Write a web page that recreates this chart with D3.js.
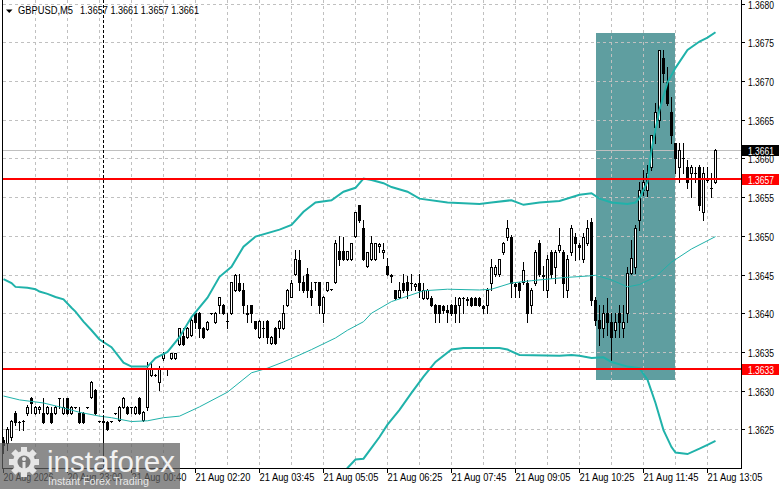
<!DOCTYPE html>
<html><head><meta charset="utf-8">
<script src="https://cdn.jsdelivr.net/npm/d3@7/dist/d3.min.js"></script>
<style>
html,body{margin:0;padding:0;background:#fff;overflow:hidden;}
svg{display:block;}
text{font-family:"Liberation Sans",Arial,sans-serif;}
</style></head><body>
<svg id="c" width="781" height="489"></svg>
<script>
// ---------------- data ----------------
const symbolName = "GBPUSD,M5";
const headerValues = "1.3657 1.3661 1.3657 1.3661";

const opens = [
1.36236,1.36232,1.36240,1.36271,1.36260,1.36261,1.36271,1.36291,1.36271,1.36276,
1.36271,1.36271,1.36271,1.36271,1.36291,1.36271,1.36291,1.36271,1.36279,1.36271,
1.36271,1.36279,1.36292,1.36301,1.36261,1.36261,1.36260,1.36261,1.36271,1.36262,
1.36279,1.36279,1.36279,1.36271,1.36291,1.36262,1.36279,1.36320,1.36320,1.36311,
1.36342,1.36329,1.36342,1.36342,1.36360,1.36371,1.36369,1.36372,1.36400,1.36400,
1.36381,1.36380,1.36400,1.36389,1.36411,1.36411,1.36390,1.36400,1.36430,1.36439,
1.36430,1.36400,1.36411,1.36390,1.36369,1.36381,1.36390,1.36362,1.36381,1.36381,
1.36381,1.36411,1.36421,1.36451,1.36469,1.36440,1.36451,1.36430,1.36440,1.36440,
1.36400,1.36430,1.36431,1.36440,1.36480,1.36480,1.36470,1.36470,1.36500,1.36540,
1.36510,1.36461,1.36470,1.36470,1.36487,1.36479,1.36461,1.36449,1.36430,1.36421,
1.36439,1.36440,1.36439,1.36435,1.36439,1.36420,1.36420,1.36420,1.36411,1.36411,
1.36409,1.36404,1.36411,1.36411,1.36411,1.36420,1.36417,1.36420,1.36420,1.36420,
1.36409,1.36411,1.36439,1.36451,1.36451,1.36479,1.36499,1.36499,1.36438,1.36439,
1.36440,1.36439,1.36411,1.36439,1.36491,1.36449,1.36430,1.36479,1.36460,1.36482,
1.36479,1.36430,1.36479,1.36499,1.36488,1.36470,1.36491,1.36518,1.36417,1.36391,
1.36381,1.36400,1.36389,1.36378,1.36400,1.36381,1.36400,1.36452,1.36460,1.36521,
1.36559,1.36559,1.36589,1.36641,1.36650,1.36730,1.36699,1.36660,1.36620,1.36589,
1.36601,1.36589,1.36581,1.36581,1.36589,1.36531,1.36572,1.36562,1.36570];

const highs = [
1.36240,1.36253,1.36262,1.36274,1.36261,1.36262,1.36282,1.36292,1.36280,1.36280,
1.36291,1.36280,1.36279,1.36280,1.36291,1.36291,1.36291,1.36280,1.36279,1.36279,
1.36272,1.36279,1.36313,1.36302,1.36261,1.36265,1.36261,1.36261,1.36271,1.36280,
1.36292,1.36280,1.36279,1.36280,1.36292,1.36274,1.36337,1.36337,1.36322,1.36332,
1.36350,1.36329,1.36349,1.36349,1.36381,1.36381,1.36382,1.36394,1.36402,1.36402,
1.36382,1.36390,1.36400,1.36402,1.36421,1.36412,1.36400,1.36440,1.36451,1.36451,
1.36439,1.36411,1.36411,1.36390,1.36391,1.36390,1.36391,1.36371,1.36382,1.36391,
1.36411,1.36431,1.36443,1.36482,1.36482,1.36448,1.36459,1.36440,1.36440,1.36440,
1.36422,1.36440,1.36431,1.36495,1.36500,1.36499,1.36480,1.36491,1.36531,1.36540,
1.36521,1.36479,1.36500,1.36491,1.36491,1.36491,1.36471,1.36451,1.36430,1.36440,
1.36451,1.36448,1.36451,1.36439,1.36451,1.36439,1.36431,1.36422,1.36412,1.36411,
1.36411,1.36411,1.36412,1.36421,1.36421,1.36421,1.36421,1.36421,1.36421,1.36421,
1.36411,1.36433,1.36470,1.36462,1.36470,1.36492,1.36521,1.36501,1.36439,1.36440,
1.36466,1.36443,1.36433,1.36482,1.36495,1.36461,1.36475,1.36482,1.36482,1.36510,
1.36482,1.36475,1.36514,1.36504,1.36491,1.36504,1.36521,1.36523,1.36421,1.36411,
1.36411,1.36420,1.36400,1.36400,1.36411,1.36411,1.36460,1.36495,1.36514,1.36570,
1.36585,1.36592,1.36630,1.36672,1.36740,1.36740,1.36718,1.36679,1.36620,1.36620,
1.36620,1.36598,1.36592,1.36589,1.36592,1.36589,1.36589,1.36581,1.36612];

const lows = [
1.36220,1.36223,1.36236,1.36256,1.36249,1.36249,1.36269,1.36271,1.36270,1.36271,
1.36258,1.36270,1.36258,1.36270,1.36278,1.36270,1.36270,1.36270,1.36278,1.36258,
1.36258,1.36278,1.36291,1.36270,1.36260,1.36207,1.36249,1.36260,1.36270,1.36261,
1.36278,1.36270,1.36271,1.36270,1.36270,1.36261,1.36275,1.36319,1.36319,1.36301,
1.36340,1.36320,1.36341,1.36341,1.36359,1.36359,1.36368,1.36371,1.36381,1.36369,
1.36368,1.36378,1.36399,1.36387,1.36400,1.36399,1.36381,1.36399,1.36429,1.36429,
1.36400,1.36389,1.36389,1.36380,1.36368,1.36369,1.36362,1.36360,1.36360,1.36369,
1.36380,1.36409,1.36421,1.36449,1.36430,1.36428,1.36421,1.36411,1.36430,1.36400,
1.36389,1.36429,1.36430,1.36439,1.36462,1.36469,1.36469,1.36469,1.36499,1.36518,
1.36469,1.36460,1.36469,1.36469,1.36479,1.36471,1.36449,1.36440,1.36418,1.36420,
1.36428,1.36420,1.36430,1.36430,1.36421,1.36418,1.36418,1.36409,1.36389,1.36389,
1.36400,1.36389,1.36398,1.36389,1.36389,1.36400,1.36411,1.36409,1.36411,1.36409,
1.36400,1.36400,1.36430,1.36448,1.36448,1.36477,1.36495,1.36421,1.36421,1.36421,
1.36438,1.36389,1.36400,1.36437,1.36448,1.36430,1.36421,1.36446,1.36439,1.36479,
1.36421,1.36421,1.36475,1.36469,1.36470,1.36466,1.36488,1.36411,1.36385,1.36359,
1.36369,1.36372,1.36340,1.36369,1.36369,1.36369,1.36389,1.36451,1.36452,1.36508,
1.36553,1.36552,1.36585,1.36620,1.36641,1.36699,1.36669,1.36620,1.36581,1.36570,
1.36581,1.36562,1.36550,1.36570,1.36533,1.36521,1.36570,1.36550,1.36568];

const closes = [
1.36230,1.36250,1.36261,1.36260,1.36260,1.36261,1.36279,1.36284,1.36279,1.36279,
1.36260,1.36279,1.36260,1.36279,1.36291,1.36279,1.36271,1.36279,1.36279,1.36260,
1.36260,1.36279,1.36311,1.36271,1.36261,1.36260,1.36250,1.36261,1.36271,1.36279,
1.36291,1.36271,1.36279,1.36279,1.36271,1.36272,1.36329,1.36329,1.36320,1.36329,
1.36347,1.36329,1.36349,1.36349,1.36381,1.36360,1.36381,1.36391,1.36389,1.36381,
1.36369,1.36389,1.36400,1.36400,1.36421,1.36400,1.36390,1.36440,1.36449,1.36430,
1.36411,1.36399,1.36400,1.36381,1.36390,1.36381,1.36369,1.36369,1.36362,1.36390,
1.36400,1.36430,1.36439,1.36470,1.36440,1.36430,1.36430,1.36421,1.36440,1.36411,
1.36421,1.36440,1.36431,1.36491,1.36470,1.36470,1.36480,1.36491,1.36531,1.36521,
1.36470,1.36479,1.36491,1.36491,1.36490,1.36482,1.36451,1.36448,1.36420,1.36430,
1.36430,1.36430,1.36439,1.36438,1.36430,1.36430,1.36430,1.36411,1.36400,1.36400,
1.36404,1.36402,1.36400,1.36400,1.36420,1.36420,1.36418,1.36411,1.36411,1.36411,
1.36407,1.36430,1.36460,1.36460,1.36470,1.36491,1.36510,1.36439,1.36435,1.36430,
1.36456,1.36400,1.36430,1.36479,1.36451,1.36448,1.36470,1.36451,1.36479,1.36488,
1.36439,1.36470,1.36510,1.36491,1.36486,1.36499,1.36510,1.36417,1.36391,1.36381,
1.36400,1.36389,1.36369,1.36389,1.36389,1.36389,1.36452,1.36471,1.36510,1.36559,
1.36570,1.36581,1.36630,1.36660,1.36740,1.36710,1.36672,1.36630,1.36601,1.36611,
1.36601,1.36570,1.36589,1.36581,1.36540,1.36581,1.36572,1.36562,1.36611];

// Bollinger bands: bar index / price pairs
const upperIdx = [0,2,3,6,8,9,11,13,15,17,18,20,22,24,27,30,32,36,38,41,44,47,51,54,57,60,63,69,72,75,78,82,85,88,90,92,95,97,101,104,111,119,122,127,130,134,139,144,147,149,152,156,158,159,161,162,164,166,168,171,174,176,178];
const upperBand = [1.36444,1.36439,1.36434,1.36433,1.36431,1.36428,1.36425,1.36421,1.36418,1.36407,1.36402,1.36389,1.36378,1.36366,1.36356,1.36336,1.36331,1.36331,1.36342,1.36350,1.36369,1.36395,1.36420,1.36447,1.36460,1.36486,1.36499,1.36508,1.36514,1.36531,1.36543,1.36546,1.36557,1.36562,1.36574,1.36572,1.36568,1.36563,1.36557,1.36548,1.36543,1.36541,1.36543,1.36546,1.36540,1.36543,1.36545,1.36553,1.36555,1.36548,1.36543,1.36541,1.36543,1.36549,1.36570,1.36611,1.36663,1.36698,1.36717,1.36740,1.36751,1.36756,1.36763];

const midIdx = [0,4,10,14,19,24,27,32,36,40,44,49,56,62,66,70,74,77,83,86,90,92,97,101,105,111,119,122,127,132,140,146,148,152,156,159,163,167,172,178];
const midBand = [1.36293,1.36288,1.36284,1.36279,1.36272,1.36267,1.36265,1.36260,1.36261,1.36265,1.36267,1.36279,1.36298,1.36323,1.36329,1.36337,1.36346,1.36353,1.36368,1.36378,1.36389,1.36400,1.36415,1.36422,1.36429,1.36431,1.36430,1.36431,1.36439,1.36442,1.36446,1.36448,1.36449,1.36443,1.36434,1.36437,1.36447,1.36466,1.36483,1.36499];

const lowerIdx = [74,82,86,88,90,92,94,96,99,102,105,108,112,115,124,126,129,139,142,144,147,150,152,156,159,161,163,165,167,168,171,174,176,178];
const lowerBand = [1.36133,1.36172,1.36200,1.36211,1.36212,1.36226,1.36240,1.36256,1.36275,1.36297,1.36318,1.36337,1.36353,1.36355,1.36355,1.36353,1.36346,1.36345,1.36346,1.36345,1.36342,1.36343,1.36337,1.36331,1.36329,1.36314,1.36284,1.36249,1.36227,1.36220,1.36218,1.36225,1.36230,1.36235];

const priceTicks = [1.3625,1.3630,1.3635,1.3640,1.3645,1.3650,1.3655,1.3660,1.3665,1.3670,1.3675,1.3680];
const timeLabels = ["20 Aug 2026","20 Aug 23:00","21 Aug 00:40","21 Aug 02:20","21 Aug 03:45","21 Aug 05:05","21 Aug 06:25","21 Aug 07:45","21 Aug 09:05","21 Aug 10:25","21 Aug 11:45","21 Aug 13:05"];
const timeLabelIdx = [0,16,32,48,64,80,96,112,128,144,160,176];

const levelPrices = [1.36574, 1.36328];
const levelLabels = ["1.3657", "1.3633"];
const bidPrice = 1.36611, bidLabel = "1.3661";
const crosshairIdx = 25;
const zoneIdx = [148, 168];
const zonePrices = [1.36314, 1.36762];

// ---------------- drawing ----------------
const svg = d3.select("#c");
const L = 3, R = 741, B = 468;
const x = d3.scaleLinear().domain([0, 178]).range([3.5, 715.5]);
const y = d3.scaleLinear().domain([1.3625, 1.3680]).range([429.3, 3.6]);
const TEAL = "#20b2aa";

svg.append("rect").attr("width",781).attr("height",489).attr("fill","#fff");
svg.append("defs").append("clipPath").attr("id","plot")
  .append("rect").attr("x",L).attr("y",0).attr("width",R-L).attr("height",B);
const plot = svg.append("g").attr("clip-path","url(#plot)");

// zone rectangle (background object)
plot.append("rect")
  .attr("x", Math.round(x(zoneIdx[0]))).attr("y", Math.round(y(zonePrices[1])))
  .attr("width", Math.round(x(zoneIdx[1])) - Math.round(x(zoneIdx[0])))
  .attr("height", Math.round(y(zonePrices[0])) - Math.round(y(zonePrices[1])))
  .attr("fill","#5f9ea0");

// grid
const grid = plot.append("g").attr("stroke","#c0c0c0").attr("stroke-dasharray","3,3").attr("shape-rendering","crispEdges");
grid.selectAll("line.h").data(priceTicks).join("line")
  .attr("x1",L).attr("x2",R).attr("y1",d=>Math.round(y(d))+0.5).attr("y2",d=>Math.round(y(d))+0.5);
const vgrid = d3.range(8, 179, 8);
grid.selectAll("line.v").data(vgrid).join("line")
  .attr("y1",0).attr("y2",B).attr("x1",d=>x(d)).attr("x2",d=>x(d));

// bid line
plot.append("line").attr("x1",L).attr("x2",R)
  .attr("y1",Math.round(y(bidPrice))+0.5).attr("y2",Math.round(y(bidPrice))+0.5)
  .attr("stroke","#c0c0c0").attr("shape-rendering","crispEdges");

// candles
const idx = d3.range(opens.length);
const cg = plot.append("g").attr("shape-rendering","crispEdges");
idx.forEach(i => {
  const cx = x(i);
  const yo = y(opens[i]), yc = y(closes[i]), yh = y(highs[i]), yl = y(lows[i]);
  const top = Math.round(Math.min(yo,yc)), bot = Math.round(Math.max(yo,yc));
  cg.append("line").attr("x1",cx).attr("x2",cx)
    .attr("y1",Math.round(yh)).attr("y2",Math.round(yl)+1).attr("stroke","#000");
  if (bot - top < 1) {
    cg.append("line").attr("x1",cx-1.5).attr("x2",cx+1.5)
      .attr("y1",top+0.5).attr("y2",top+0.5).attr("stroke","#000");
  } else if (closes[i] > opens[i]) {
    cg.append("rect").attr("x",cx-1).attr("y",top+0.5).attr("width",2).attr("height",bot-top)
      .attr("fill","#fff").attr("stroke","#000");
  } else {
    cg.append("rect").attr("x",cx-1.5).attr("y",top).attr("width",3).attr("height",bot-top+1)
      .attr("fill","#000");
  }
});

// bands
const bandLine = (xs, vs) => d3.line().x((d,i)=>x(xs[i])).y(d=>y(d))(vs);
plot.append("path").attr("d",bandLine(midIdx,midBand)).attr("fill","none").attr("stroke",TEAL).attr("stroke-width",1);
plot.append("path").attr("d",bandLine(upperIdx,upperBand)).attr("fill","none").attr("stroke",TEAL).attr("stroke-width",2);
plot.append("path").attr("d",bandLine(lowerIdx,lowerBand)).attr("fill","none").attr("stroke",TEAL).attr("stroke-width",2);

// horizontal level lines
plot.selectAll("line.lvl").data(levelPrices).join("line")
  .attr("x1",L).attr("x2",R).attr("y1",d=>Math.round(y(d))).attr("y2",d=>Math.round(y(d)))
  .attr("stroke","#ff0000").attr("stroke-width",2).attr("shape-rendering","crispEdges");

// crosshair
plot.append("line").attr("x1",x(crosshairIdx)-0.5).attr("x2",x(crosshairIdx)-0.5).attr("y1",0).attr("y2",B)
  .attr("stroke","#000").attr("stroke-dasharray","3,2").attr("shape-rendering","crispEdges");

// frame / axes
const ax = svg.append("g").attr("stroke","#000").attr("shape-rendering","crispEdges");
ax.append("line").attr("x1",2.5).attr("x2",2.5).attr("y1",0).attr("y2",B+1);
ax.append("line").attr("x1",R+0.5).attr("x2",R+0.5).attr("y1",0).attr("y2",B+1);
ax.append("line").attr("x1",2).attr("x2",R+1).attr("y1",B+0.5).attr("y2",B+0.5);
ax.selectAll("line.pt").data(priceTicks).join("line")
  .attr("x1",R).attr("x2",R+4).attr("y1",d=>Math.round(y(d))+0.5).attr("y2",d=>Math.round(y(d))+0.5);
ax.selectAll("line.tt").data(timeLabelIdx).join("line")
  .attr("x1",d=>x(d)).attr("x2",d=>x(d)).attr("y1",B).attr("y2",B+5);

// price labels
svg.selectAll("text.pl").data(priceTicks).join("text")
  .attr("x",748).attr("y",d=>Math.round(y(d))+4.5).attr("font-size",10)
  .attr("textLength",26).attr("lengthAdjust","spacingAndGlyphs").attr("fill","#000")
  .text(d=>d.toFixed(4));

// time labels
svg.selectAll("text.tl").data(timeLabels).join("text")
  .attr("x",(d,i)=>x(timeLabelIdx[i])).attr("y",481).attr("font-size",10)
  .attr("textLength",d=>d.length===12?55:50).attr("lengthAdjust","spacingAndGlyphs")
  .attr("fill","#000").text(d=>d);

// price tags on the right
function tag(price, label, bg){
  const cy = Math.round(y(price));
  svg.append("rect").attr("x",R+1).attr("y",cy-5).attr("width",37).attr("height",11).attr("fill",bg);
  svg.append("text").attr("x",748).attr("y",cy+4.5).attr("font-size",10).attr("fill","#fff")
    .attr("textLength",26).attr("lengthAdjust","spacingAndGlyphs").text(label);
}
tag(bidPrice, bidLabel, "#000");
levelPrices.forEach((p,i)=>tag(p, levelLabels[i], "#ff0000"));

// header
svg.append("path").attr("d","M6,9.5 L12.5,9.5 L9.25,13 Z").attr("fill","#000");
svg.append("text").attr("x",18).attr("y",14).attr("font-size",10).attr("fill","#000")
  .attr("textLength",55).attr("lengthAdjust","spacingAndGlyphs").text(symbolName);
svg.append("text").attr("x",80).attr("y",14).attr("font-size",10).attr("fill","#000")
  .attr("textLength",119).attr("lengthAdjust","spacingAndGlyphs").text(headerValues);

// watermark logo
const logo = svg.append("g");
logo.append("rect").attr("x",0).attr("y",443).attr("width",180).attr("height",46).attr("fill","rgba(95,95,95,0.72)");
const gear = logo.append("g").attr("transform","translate(24,462)").attr("fill","#e6e6e6");
d3.range(8).forEach(k=>{
  gear.append("rect").attr("x",-3).attr("y",-15).attr("width",6).attr("height",8)
    .attr("transform",`rotate(${k*45})`);
});
gear.append("circle").attr("r",11);
gear.append("circle").attr("r",6.5).attr("fill","#7a7a7a");
gear.append("circle").attr("cx",0).attr("cy",-3).attr("r",2).attr("fill","#e6e6e6");
gear.append("rect").attr("x",-1.5).attr("y",0).attr("width",3).attr("height",8).attr("fill","#e6e6e6");
logo.append("text").attr("x",47).attr("y",472).attr("font-size",30).attr("fill","#f2f2f2")
  .attr("textLength",128).attr("lengthAdjust","spacingAndGlyphs").text("instaforex");
logo.append("text").attr("x",48).attr("y",485).attr("font-size",11).attr("fill","#e8e8e8")
  .attr("textLength",101).attr("lengthAdjust","spacingAndGlyphs").text("Instant Forex Trading");
</script>
</body></html>
